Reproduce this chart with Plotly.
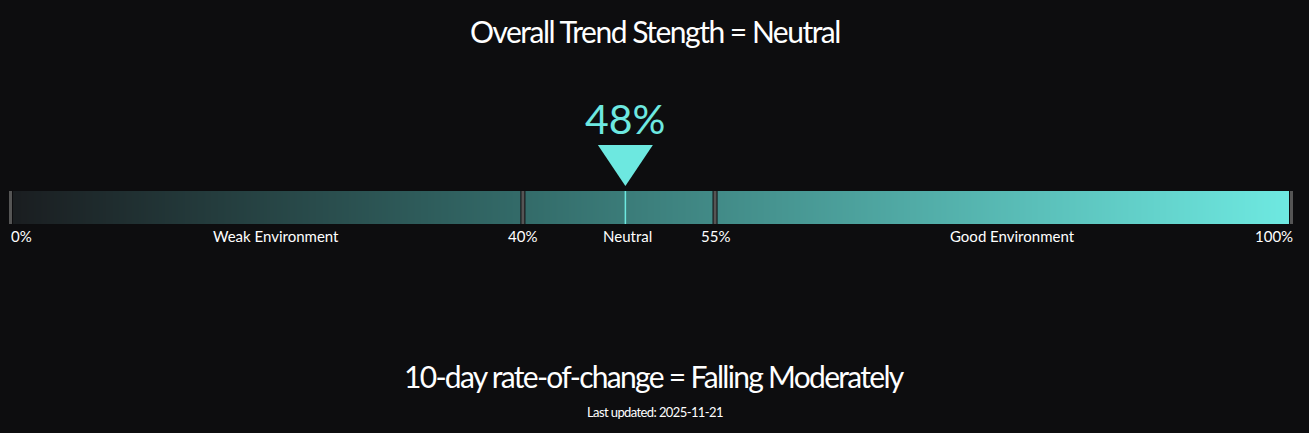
import numpy as np
import plotly.graph_objects as go

# ---- data ----
thresholds = [0, 40, 55, 100]
threshold_labels = ["0%", "40%", "55%", "100%"]
zone_names = ["Weak Environment", "Neutral", "Good Environment"]
value = 48
value_label = "48%"
title_text = "Overall Trend Stength = Neutral"
roc_text = "10-day rate-of-change = Falling Moderately"
updated_text = "Last updated: 2025-11-21"

# ---- styling / layout ----
W, H = 1309, 433
BG = "#0d0d0f"
CYAN = "#6de8e0"
TICK = "#555555"
FONT = "Lato"
px0, px100 = 10.5, 1291.5
ppu = (px100 - px0) / 100.0           # pixels per percent
xr = [-px0 / ppu, (W - px0) / ppu]
bar_top, bar_bot = 191, 224

fig = go.Figure()

# gradient bar
n = 1280
edges = np.linspace(thresholds[0], thresholds[-1], n + 1)
centers = (edges[:-1] + edges[1:]) / 2
fig.add_trace(go.Heatmap(
    x=edges, y=[bar_top, bar_bot], z=[centers],
    zmin=0, zmax=100,
    colorscale=[[0, "#1a1d20"], [0.4, "#336b69"], [1, "#6ee9e1"]],
    showscale=False, hoverinfo="skip"))

# pointer triangle
hw = 27.5 / ppu
fig.add_trace(go.Scatter(
    x=[value - hw, value + hw, value, value - hw],
    y=[145, 145, 186, 145],
    mode="lines", fill="toself", fillcolor=CYAN,
    line=dict(width=0, color=CYAN), hoverinfo="skip", showlegend=False))

shapes = []
for t in thresholds:
    shapes.append(dict(type="line", xref="x", yref="y", x0=t, x1=t,
                       y0=bar_top, y1=bar_bot, line=dict(color=BG, width=5)))
    shapes.append(dict(type="line", xref="x", yref="y", x0=t, x1=t,
                       y0=bar_top, y1=bar_bot, line=dict(color=TICK, width=3)))
shapes.append(dict(type="line", xref="x", yref="y", x0=value, x1=value,
                   y0=bar_top, y1=bar_bot, line=dict(color=CYAN, width=1.5)))

ann = []
def sp(text, ls):
    return f'<span style="letter-spacing:{ls}px">{text}</span>'

# titles
ann.append(dict(text=sp(title_text, -1.5), x=0.5, xref="paper", y=31, yref="y",
                showarrow=False, font=dict(family=FONT, size=30, color="#ffffff")))
ann.append(dict(text=sp(roc_text, -1.7), x=0.5, xref="paper", y=376, yref="y",
                showarrow=False, font=dict(family=FONT, size=30, color="#ffffff")))
ann.append(dict(text=sp(updated_text, -0.6), x=0.5, xref="paper", y=412, yref="y",
                showarrow=False, font=dict(family=FONT, size=13, color="#ffffff")))
# value label
ann.append(dict(text=value_label, x=value, xref="x", y=118, yref="y",
                showarrow=False, font=dict(family=FONT, size=41, color=CYAN)))

# threshold labels
for i, (t, lab) in enumerate(zip(thresholds, threshold_labels)):
    if i == 0:
        xa, xs = "left", -2
    elif i == len(thresholds) - 1:
        xa, xs = "right", 3
    else:
        xa, xs = "center", 0
    ann.append(dict(text=lab, x=t, xref="x", y=236, yref="y", xanchor=xa, xshift=xs,
                    showarrow=False, font=dict(family=FONT, size=15, color="#ffffff")))
# zone labels
for a, b, name in zip(thresholds[:-1], thresholds[1:], zone_names):
    ann.append(dict(text=name, x=(a + b) / 2, xref="x", y=236, yref="y", xshift=9,
                    showarrow=False, font=dict(family=FONT, size=15, color="#ffffff")))

fig.update_layout(
    width=W, height=H, margin=dict(l=0, r=0, t=0, b=0),
    paper_bgcolor=BG, plot_bgcolor=BG,
    xaxis=dict(range=xr, visible=False, fixedrange=True),
    yaxis=dict(range=[H, 0], visible=False, fixedrange=True),
    shapes=shapes, annotations=ann, showlegend=False)

fig.write_html(
    "out.html",
    config={"displayModeBar": False},
    post_script="document.body.style.margin='0';document.body.style.background='%s';"
                "document.body.style.overflow='hidden';" % BG)
